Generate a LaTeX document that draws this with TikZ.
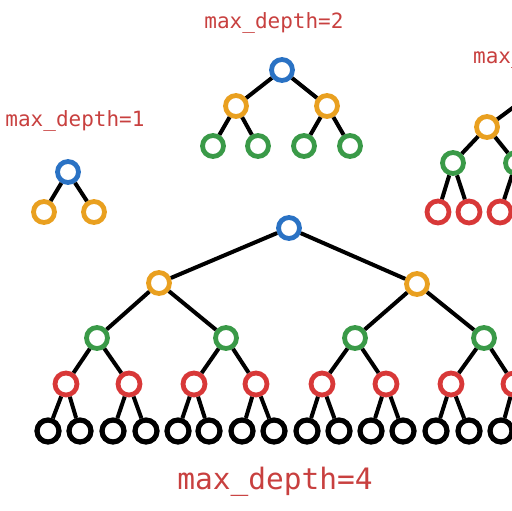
\documentclass[tikz,border=0pt]{standalone}
\usepackage{fontspec}
\newfontfamily\codefont{DejaVu Sans Mono}
\definecolor{lblred}{HTML}{C8403F}
\definecolor{cblue}{HTML}{2A72C4}
\definecolor{corange}{HTML}{E9A020}
\definecolor{cgreen}{HTML}{3A9A48}
\definecolor{cred}{HTML}{D83838}
\tikzset{
  nd/.style={circle, draw, line width=4.8pt, minimum size=21pt, inner sep=0pt, fill=white},
  bl/.style={nd, draw=cblue},
  og/.style={nd, draw=corange},
  gr/.style={nd, draw=cgreen},
  rd/.style={nd, draw=cred, minimum size=22pt},
  bk/.style={nd, draw=black, line width=5.2pt, minimum size=22pt},
  ed/.style={line width=4pt, black},
  lbl/.style={text=lblred, font=\codefont\fontsize{21}{21}\selectfont, inner sep=0pt},
  biglbl/.style={text=lblred, font=\codefont\fontsize{29.5}{29.5}\selectfont, inner sep=0pt}
}
\begin{document}
\begin{tikzpicture}[x=1pt, y=-1pt]
\useasboundingbox (0,0) rectangle (512,511);
\clip (0,0) rectangle (512,511);
% labels
\node[lbl] (l1) at (75,121) {max\_depth=1};
\node[lbl] (l2) at (274,23) {max\_depth=2};
\node[lbl, anchor=west] (l3) at (473,58) {max\_depth=3};
\node[biglbl] (l4) at (275,482) {max\_depth=4};
% tree depth 1
\node[bl] (a) at (68,172) {};
\node[og] (a1) at (44,212) {};
\node[og] (a2) at (94,212) {};
\draw[ed] (a) -- (a1) (a) -- (a2);
% tree depth 2
\node[bl] (b) at (282,70) {};
\node[og] (b1) at (236,106) {};
\node[og] (b2) at (327,106) {};
\node[gr] (b11) at (213,146) {};
\node[gr] (b12) at (258,146) {};
\node[gr] (b21) at (304,146) {};
\node[gr] (b22) at (350,146) {};
\draw[ed] (b) -- (b1) (b) -- (b2) (b1) -- (b11) (b1) -- (b12) (b2) -- (b21) (b2) -- (b22);
% tree depth 3 (cut off)
\node[bl] (c) at (550,80) {};
\node[og] (c1) at (487,127) {};
\node[gr] (c11) at (453,163) {};
\node[gr] (c12) at (516,163) {};
\node[rd] (c111) at (438,212) {};
\node[rd] (c112) at (469,212) {};
\node[rd] (c121) at (500,212) {};
\node[rd] (c122) at (531,212) {};
\draw[ed] (c) -- (c1) (c1) -- (c11) (c1) -- (c12) (c11) -- (c111) (c11) -- (c112) (c12) -- (c121) (c12) -- (c122);
% main tree depth 4
\node[bl] (r) at (289,228) {};
\node[og] (r1) at (159,283) {};
\node[og] (r2) at (417,284) {};
\foreach \i/\x in {1/97,2/226,3/355,4/484} {\node[gr] (g\i) at (\x,338) {};}
\foreach \i/\x in {1/66,2/129,3/194,4/256,5/322,6/386,7/451,8/514} {\node[rd] (q\i) at (\x,384) {};}
\foreach \i/\x in {1/48,2/80,3/113,4/146,5/178,6/209,7/242,8/274,9/307,10/339,11/371,12/403,13/436,14/469,15/501,16/533} {\node[bk] (k\i) at (\x,431) {};}
\draw[ed] (r) -- (r1) (r) -- (r2);
\draw[ed] (r1) -- (g1) (r1) -- (g2) (r2) -- (g3) (r2) -- (g4);
\draw[ed] (g1) -- (q1) (g1) -- (q2) (g2) -- (q3) (g2) -- (q4) (g3) -- (q5) (g3) -- (q6) (g4) -- (q7) (g4) -- (q8);
\foreach \p/\a/\b in {1/1/2,2/3/4,3/5/6,4/7/8,5/9/10,6/11/12,7/13/14,8/15/16} {\draw[ed] (q\p) -- (k\a) (q\p) -- (k\b);}
\end{tikzpicture}
\end{document}
